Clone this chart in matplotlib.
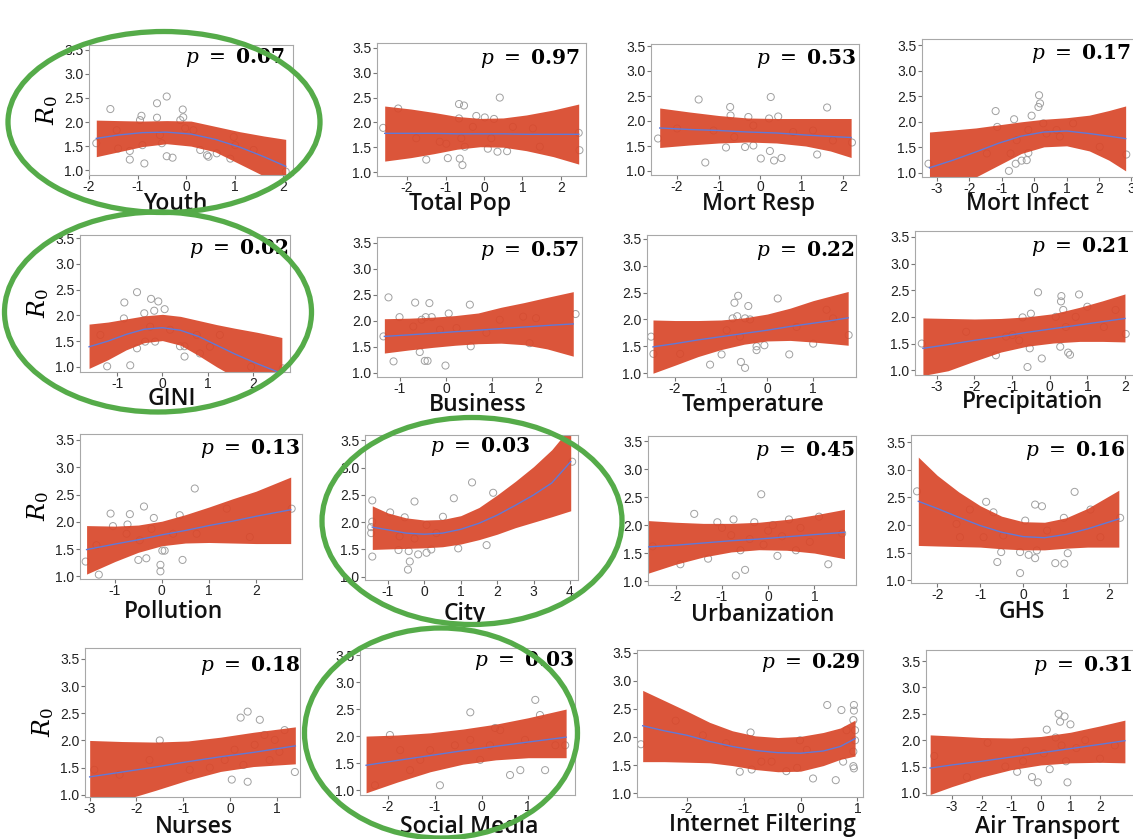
import matplotlib
matplotlib.use('Agg')
import matplotlib.pyplot as plt
from matplotlib.patches import Ellipse

# ---- fitted curves (x, lower band, upper band, fit) and scattered points ----

# Youth
youth_x = [-1.85, -1.4, -0.9, -0.4, 0.1, 0.6, 1.1, 1.6, 2.05]
youth_hi = [2.04, 2.03, 2.02, 2.03, 2.02, 1.91, 1.80, 1.71, 1.64]
youth_lo = [1.28, 1.38, 1.49, 1.55, 1.50, 1.38, 1.13, 0.88, 0.60]
youth_fit = [1.66, 1.73, 1.78, 1.79, 1.75, 1.64, 1.48, 1.28, 1.08]
youth_px = [-1.56, -1.85, -1.4, -1.16, -1.16, -0.92, -0.95, -0.86, -0.9, -0.6, -0.4, -0.6, -0.5, -0.4, -0.28,
            -0.07, -0.06, -0.12, -0.02, -0.54, 0.29, 0.43, 0.46, 0.63, 0.98, 1.01, 0.91, 1.39, 2.05, 0.15, -1.43]
youth_py = [2.27, 1.56, 1.45, 1.40, 1.22, 2.13, 2.04, 1.14, 1.52, 2.39, 2.53, 2.09, 1.56, 1.29, 1.26,
            2.26, 2.10, 2.04, 1.87, 1.73, 1.42, 1.31, 1.28, 1.35, 1.69, 1.52, 1.24, 1.42, 0.97, 1.83, 1.83]

# Total Pop
pop_x = [-2.58, -1.9, -1.3, -0.7, -0.1, 0.5, 1.1, 1.8, 2.46]
pop_hi = [2.33, 2.27, 2.20, 2.12, 2.08, 2.09, 2.15, 2.25, 2.37]
pop_lo = [1.22, 1.29, 1.37, 1.46, 1.51, 1.50, 1.43, 1.31, 1.16]
pop_fit = [1.78, 1.78, 1.78, 1.77, 1.77, 1.77, 1.76, 1.76, 1.76]
pop_px = [-2.62, -2.23, -1.5, -0.94, -0.65, -0.52, -0.65, -0.63, -0.56, -0.5, -0.59, -0.2, 0.02, 0.26,
          0.41, 0.1, 0.35, 0.6, -0.98, 0.19, 0.75, 1.27, 1.45, 2.46, 2.48, -0.29, -1.76, -1.15]
pop_py = [1.89, 2.28, 1.25, 1.28, 2.37, 2.34, 2.08, 1.27, 1.14, 1.51, 1.68, 2.13, 2.10, 2.07,
          2.50, 1.47, 1.41, 1.42, 1.57, 1.68, 1.91, 1.88, 1.51, 1.79, 1.44, 1.91, 1.68, 1.61]

# Mort Resp
resp_x = [-2.42, -1.7, -1.0, -0.3, 0.4, 1.1, 1.7, 2.2]
resp_hi = [2.26, 2.18, 2.11, 2.06, 2.05, 2.05, 2.05, 2.05]
resp_lo = [1.47, 1.52, 1.56, 1.58, 1.56, 1.50, 1.40, 1.27]
resp_fit = [1.86, 1.83, 1.81, 1.78, 1.76, 1.72, 1.69, 1.67]
resp_px = [-2.46, -1.48, -1.32, -0.72, -0.71, -0.82, -0.28, -0.36, -0.16, 0.02, 0.26, 0.22, 0.44,
           0.24, 0.34, 0.52, -0.62, -0.16, 1.38, 1.62, 2.22, -1.12, -2.0, 0.8, 1.28, 1.76]
resp_py = [1.65, 2.43, 1.17, 2.28, 2.11, 1.47, 2.08, 1.48, 1.51, 1.25, 2.48, 2.05, 2.09,
           1.40, 1.21, 1.26, 1.68, 1.91, 1.33, 2.27, 1.57, 1.81, 1.85, 1.78, 1.81, 1.61]

# Mort Infect
inf_x = [-3.23, -2.5, -1.8, -1.1, -0.4, 0.3, 1.0, 1.7, 2.3, 2.82]
inf_hi = [1.80, 1.84, 1.88, 1.94, 2.00, 2.05, 2.08, 2.13, 2.22, 2.31]
inf_lo = [0.80, 0.85, 0.92, 1.15, 1.38, 1.51, 1.53, 1.43, 1.25, 1.04]
inf_fit = [1.10, 1.25, 1.41, 1.58, 1.72, 1.80, 1.82, 1.77, 1.72, 1.67]
inf_px = [-3.26, -1.19, -1.14, -0.62, -0.73, -0.57, -0.78, -0.39, -0.23, -0.18, -0.08, 0.15, 0.18,
          0.13, -0.18, -0.54, 0.38, 0.79, 1.2, 2.84, -1.46, 0.28, 0.69, 2.02]
inf_py = [1.18, 2.21, 1.90, 2.05, 1.38, 1.18, 1.04, 1.24, 1.25, 1.39, 2.12, 2.52, 2.36,
          2.29, 1.84, 1.64, 1.77, 1.71, 1.97, 1.36, 1.38, 1.97, 1.84, 1.51]

# GINI
gini_x = [-1.62, -1.2, -0.8, -0.4, 0.0, 0.4, 0.8, 1.2, 1.6, 2.1, 2.64]
gini_hi = [1.83, 1.87, 1.93, 1.99, 2.02, 1.98, 1.90, 1.82, 1.75, 1.67, 1.57]
gini_lo = [0.97, 1.14, 1.33, 1.47, 1.51, 1.42, 1.22, 1.00, 0.80, 0.55, 0.30]
gini_fit = [1.39, 1.50, 1.63, 1.73, 1.76, 1.71, 1.59, 1.42, 1.25, 1.06, 0.87]
gini_px = [-1.22, -0.71, -0.84, -0.56, -0.25, -0.09, -0.18, 0.05, -0.4, -0.85, -0.56, -0.38, -0.16,
           0.39, 0.49, 0.49, 0.83, 0.17, 0.76, 1.27, 1.96, 2.66, -1.37, -0.27, 1.05]
gini_py = [1.01, 1.03, 2.25, 2.45, 2.32, 2.27, 2.09, 2.12, 2.04, 1.94, 1.36, 1.49, 1.49,
           1.40, 1.40, 1.20, 1.26, 1.72, 1.62, 1.62, 1.00, 0.97, 1.62, 1.78, 1.39]

# Business
bus_x = [-1.34, -0.8, -0.28, 0.2, 0.7, 1.2, 1.7, 2.2, 2.77]
bus_hi = [2.04, 2.05, 2.07, 2.10, 2.15, 2.26, 2.35, 2.45, 2.56]
bus_lo = [1.38, 1.44, 1.49, 1.53, 1.56, 1.57, 1.54, 1.46, 1.32]
bus_fit = [1.70, 1.73, 1.76, 1.79, 1.82, 1.85, 1.88, 1.91, 1.94]
bus_px = [-1.36, -1.25, -1.01, -1.14, -0.67, -0.36, -0.44, -0.31, -0.53, -0.57, -0.46, -0.4, -0.01,
          0.06, 0.52, 0.54, -0.71, -0.13, 0.23, 1.17, 1.68, 1.96, 1.82, 2.82, 0.88]
bus_py = [1.70, 2.45, 2.07, 1.22, 2.35, 2.34, 2.07, 2.07, 2.02, 1.40, 1.23, 1.23, 1.14,
          2.14, 2.31, 1.51, 1.89, 1.83, 1.86, 2.02, 2.08, 2.05, 1.57, 2.13, 1.77]

# Temperature
temp_x = [-2.48, -2.0, -1.5, -1.0, -0.5, 0.0, 0.5, 1.0, 1.4, 1.76]
temp_hi = [1.99, 1.98, 1.98, 1.99, 2.03, 2.10, 2.21, 2.35, 2.44, 2.52]
temp_lo = [1.00, 1.15, 1.31, 1.44, 1.54, 1.60, 1.61, 1.58, 1.55, 1.52]
temp_fit = [1.49, 1.55, 1.62, 1.68, 1.74, 1.80, 1.87, 1.93, 1.98, 2.03]
temp_px = [-2.52, -2.47, -1.24, -0.99, -0.71, -0.63, -0.41, -0.65, -0.75, -0.48, -0.37, -0.57, -0.48,
           -0.23, -0.06, -0.23, 0.23, 0.48, 1.0, 1.77, 1.43, 1.29, -0.88, -0.59, 0.64, -1.89]
temp_py = [1.68, 1.36, 1.16, 1.35, 2.31, 2.44, 2.25, 2.06, 2.02, 2.02, 2.00, 1.21, 1.10,
           1.43, 1.52, 1.50, 2.39, 1.35, 1.55, 1.71, 2.02, 2.18, 1.80, 1.68, 1.86, 1.36]

# Precipitation
prec_x = [-3.37, -2.7, -2.0, -1.3, -0.6, 0.1, 0.8, 1.4, 2.0]
prec_hi = [1.98, 1.97, 1.96, 1.97, 2.00, 2.06, 2.18, 2.30, 2.43]
prec_lo = [0.90, 0.99, 1.17, 1.34, 1.45, 1.51, 1.54, 1.54, 1.53]
prec_fit = [1.41, 1.48, 1.56, 1.63, 1.71, 1.78, 1.85, 1.91, 1.97]
prec_px = [-3.4, -2.22, -1.43, -0.99, -0.72, -0.5, -0.59, -0.53, -0.31, -0.21, 0.31, 0.3, 0.36, 0.28,
           0.49, 0.54, 0.78, 0.69, 0.16, 0.43, 1.0, 1.75, 2.02, -0.81, -1.16, 1.44]
prec_py = [1.50, 1.72, 1.28, 1.66, 1.99, 2.06, 1.06, 1.41, 2.46, 1.22, 2.39, 2.29, 2.13, 1.44,
           1.33, 1.29, 2.42, 2.00, 2.00, 1.81, 2.19, 2.13, 1.68, 1.56, 1.63, 1.81]

# Pollution
poll_x = [-1.6, -1.0, -0.5, 0.0, 0.5, 1.0, 1.5, 2.0, 2.74]
poll_hi = [1.93, 1.92, 1.94, 2.01, 2.13, 2.27, 2.42, 2.56, 2.82]
poll_lo = [1.04, 1.27, 1.44, 1.56, 1.61, 1.62, 1.61, 1.60, 1.60]
poll_fit = [1.49, 1.59, 1.67, 1.76, 1.84, 1.93, 2.01, 2.10, 2.22]
poll_px = [-1.62, -1.34, -1.09, -1.04, -0.68, -0.73, -0.5, -0.33, -0.38, -0.17, -0.22, -0.03, -0.03,
           0.01, 0.06, 0.38, 0.44, 0.7, 0.24, 0.74, 1.38, 1.87, 2.76, -0.47, -0.75, -1.39]
poll_py = [1.27, 1.03, 2.15, 1.92, 2.14, 1.95, 1.30, 1.33, 2.28, 2.07, 1.87, 1.21, 1.09,
           1.47, 1.47, 2.12, 1.30, 2.61, 1.78, 1.78, 2.24, 1.72, 2.24, 1.66, 1.78, 1.57]

# City
city_x = [-1.43, -1.0, -0.5, 0.0, 0.5, 1.0, 1.5, 2.0, 2.5, 3.0, 3.5, 4.02]
city_hi = [2.30, 2.17, 2.08, 2.04, 2.05, 2.12, 2.27, 2.50, 2.75, 3.02, 3.33, 3.75]
city_lo = [1.50, 1.51, 1.52, 1.53, 1.55, 1.60, 1.68, 1.78, 1.90, 2.00, 2.10, 2.21]
city_fit = [1.91, 1.86, 1.80, 1.78, 1.80, 1.87, 1.98, 2.13, 2.31, 2.50, 2.72, 3.11]
city_px = [-1.43, -1.43, -1.46, -1.46, -1.43, -0.94, -0.54, -0.27, -0.71, -0.43, -0.4, -0.45, -0.17,
           0.06, 0.19, 0.06, -0.27, 0.51, 0.81, 0.93, 1.31, 1.71, 1.89, 4.06, -0.68, 0.33]
city_py = [2.40, 2.01, 1.91, 1.80, 1.37, 2.18, 2.09, 2.38, 1.49, 1.47, 1.28, 1.13, 1.41,
           1.44, 1.50, 1.95, 1.70, 2.10, 2.44, 1.52, 2.73, 1.58, 2.54, 3.11, 1.74, 1.80]

# Urbanization
urb_x = [-2.6, -2.0, -1.4, -0.8, -0.2, 0.4, 1.0, 1.65]
urb_hi = [2.08, 2.05, 2.03, 2.03, 2.05, 2.10, 2.18, 2.28]
urb_lo = [1.14, 1.30, 1.43, 1.52, 1.56, 1.55, 1.50, 1.40]
urb_fit = [1.61, 1.64, 1.68, 1.72, 1.75, 1.79, 1.83, 1.87]
urb_px = [-2.5, -1.9, -1.6, -1.3, -1.1, -1.0, -0.8, -0.75, -0.6, -0.5, -0.4, -0.3, -0.15, -0.1, 0.0,
          0.1, 0.2, 0.3, 0.45, 0.6, 0.7, 0.9, 1.1, 1.3, 1.6, -0.7]
urb_py = [1.62, 1.30, 2.20, 1.40, 2.05, 1.95, 1.82, 2.10, 1.55, 1.20, 1.75, 2.05, 2.55, 1.65, 1.90,
          2.00, 1.45, 1.80, 2.10, 1.55, 1.95, 1.70, 2.15, 1.30, 1.85, 1.10]

# GHS
ghs_x = [-2.44, -2.0, -1.5, -1.0, -0.5, 0.0, 0.5, 1.0, 1.5, 2.23]
ghs_hi = [3.23, 2.90, 2.60, 2.35, 2.16, 2.06, 2.05, 2.13, 2.30, 2.63]
ghs_lo = [1.63, 1.62, 1.61, 1.60, 1.57, 1.55, 1.55, 1.58, 1.60, 1.60]
ghs_fit = [2.43, 2.30, 2.14, 1.99, 1.87, 1.79, 1.77, 1.83, 1.93, 2.11]
ghs_px = [-2.47, -0.86, -0.69, -0.6, -0.51, -0.07, -0.07, 0.05, 0.13, 0.28, 0.28, 0.44, 0.32, 0.75,
          0.96, 0.95, 1.04, 1.2, 1.57, 2.26, -1.55, -1.24, -1.47, -0.46, 0.56, 1.8, -0.92]
ghs_py = [2.61, 2.42, 2.23, 1.33, 1.51, 1.51, 1.13, 2.08, 1.46, 1.40, 2.37, 2.34, 1.54, 1.31,
          1.30, 2.13, 1.49, 2.60, 2.28, 2.13, 2.02, 2.28, 1.78, 1.81, 1.90, 1.78, 1.78]

# Nurses
nur_x = [-3.0, -2.3, -1.6, -0.9, -0.2, 0.5, 1.4]
nur_hi = [2.00, 1.98, 1.97, 1.99, 2.06, 2.15, 2.25]
nur_lo = [0.70, 0.90, 1.08, 1.27, 1.43, 1.52, 1.57]
nur_fit = [1.33, 1.42, 1.51, 1.61, 1.70, 1.78, 1.90]
nur_px = [0.38, 0.23, 0.64, 0.74, 0.85, 0.29, 1.39, 0.04, 0.38, -1.72, -2.36, -2.9, -0.43, 0.1,
          0.53, 0.96, 1.06, -0.11, -0.86, -1.5, 1.17]
nur_py = [2.53, 2.42, 2.38, 2.10, 1.64, 1.55, 1.42, 1.28, 1.24, 1.64, 1.37, 1.46, 1.50, 1.83,
          1.92, 2.01, 1.79, 1.64, 1.46, 2.00, 2.19]

# Social Media
soc_x = [-2.47, -1.8, -1.1, -0.4, 0.3, 1.0, 1.81]
soc_hi = [2.00, 2.02, 2.06, 2.13, 2.22, 2.34, 2.50]
soc_lo = [0.95, 1.15, 1.34, 1.48, 1.56, 1.60, 1.60]
soc_fit = [1.46, 1.55, 1.64, 1.73, 1.81, 1.89, 1.98]
soc_px = [-1.96, -2.28, -1.53, -0.89, -0.24, 0.29, 0.4, 1.15, 1.25, 1.58, 1.36, 0.83, 0.61, -0.03,
          -0.57, -1.1, -1.31, -1.74, -0.24, 0.18, 0.93, 1.79]
soc_py = [2.02, 1.09, 1.37, 1.09, 2.44, 2.15, 2.11, 2.67, 2.39, 1.83, 1.37, 1.37, 1.28, 1.56,
          1.83, 1.74, 1.56, 1.74, 1.93, 1.83, 1.93, 1.83]

# Internet Filtering
net_x = [-2.78, -2.4, -2.0, -1.6, -1.2, -0.8, -0.4, 0.0, 0.4, 0.7, 0.96]
net_hi = [2.83, 2.65, 2.46, 2.26, 2.11, 2.02, 1.99, 2.01, 2.08, 2.16, 2.30]
net_lo = [1.56, 1.56, 1.55, 1.54, 1.49, 1.42, 1.38, 1.39, 1.49, 1.60, 1.66]
net_fit = [2.20, 2.11, 2.03, 1.92, 1.83, 1.76, 1.72, 1.71, 1.75, 1.83, 1.97]
net_px = [-2.81, -2.2, -1.72, -1.07, -0.88, -0.86, -0.69, -0.51, -0.25, -0.06, -0.01, 0.22, 0.62,
          0.47, 0.72, 0.94, 0.94, 0.93, 0.96, 0.96, 0.93, 0.75, 0.93, 0.94, 0.11, -1.31, 0.81]
net_py = [1.87, 2.29, 2.03, 1.38, 2.08, 1.42, 1.56, 1.56, 1.39, 1.45, 1.94, 1.26, 1.23,
          2.57, 2.48, 2.57, 2.47, 2.30, 2.12, 1.94, 1.74, 1.56, 1.48, 1.44, 1.77, 1.89, 2.12]

# Air Transport
air_x = [-3.74, -3.0, -2.0, -1.0, 0.0, 1.0, 2.0, 2.84]
air_hi = [2.10, 2.08, 2.05, 2.04, 2.07, 2.15, 2.27, 2.38]
air_lo = [0.97, 1.12, 1.30, 1.44, 1.53, 1.57, 1.58, 1.57]
air_fit = [1.47, 1.53, 1.60, 1.68, 1.76, 1.84, 1.92, 1.99]
air_px = [-3.6, -2.5, -1.8, -1.2, -0.8, -0.5, -0.3, -0.1, 0.1, 0.2, 0.3, 0.5, 0.6, 0.65, 0.7, 0.8,
          0.85, 0.9, 1.0, 1.2, 1.5, 2.0, 2.5, -0.6]
air_py = [1.70, 1.30, 1.95, 1.50, 1.40, 1.80, 1.30, 1.20, 1.75, 2.20, 1.45, 2.05, 2.50, 2.35, 1.90, 2.45,
          1.60, 1.20, 2.30, 1.85, 2.00, 1.65, 1.90, 1.60]

names = ['Youth', 'Total Pop', 'Mort Resp', 'Mort Infect',
         'GINI', 'Business', 'Temperature', 'Precipitation',
         'Pollution', 'City', 'Urbanization', 'GHS',
         'Nurses', 'Social Media', 'Internet Filtering', 'Air Transport']
pvals = ['0.07', '0.97', '0.53', '0.17',
         '0.02', '0.57', '0.22', '0.21',
         '0.13', '0.03', '0.45', '0.16',
         '0.18', '0.03', '0.29', '0.31']
xticks = [range(-2, 3), range(-2, 3), range(-2, 3), range(-3, 4),
          range(-1, 3), range(-1, 3), range(-2, 2), range(-3, 3),
          range(-1, 3), range(-1, 5), range(-2, 2), range(-2, 3),
          range(-3, 2), range(-2, 2), range(-2, 2), range(-3, 3)]
yticks = [1.0, 1.5, 2.0, 2.5, 3.0, 3.5]

curves = [
    (youth_x, youth_lo, youth_hi, youth_fit, youth_px, youth_py),
    (pop_x, pop_lo, pop_hi, pop_fit, pop_px, pop_py),
    (resp_x, resp_lo, resp_hi, resp_fit, resp_px, resp_py),
    (inf_x, inf_lo, inf_hi, inf_fit, inf_px, inf_py),
    (gini_x, gini_lo, gini_hi, gini_fit, gini_px, gini_py),
    (bus_x, bus_lo, bus_hi, bus_fit, bus_px, bus_py),
    (temp_x, temp_lo, temp_hi, temp_fit, temp_px, temp_py),
    (prec_x, prec_lo, prec_hi, prec_fit, prec_px, prec_py),
    (poll_x, poll_lo, poll_hi, poll_fit, poll_px, poll_py),
    (city_x, city_lo, city_hi, city_fit, city_px, city_py),
    (urb_x, urb_lo, urb_hi, urb_fit, urb_px, urb_py),
    (ghs_x, ghs_lo, ghs_hi, ghs_fit, ghs_px, ghs_py),
    (nur_x, nur_lo, nur_hi, nur_fit, nur_px, nur_py),
    (soc_x, soc_lo, soc_hi, soc_fit, soc_px, soc_py),
    (net_x, net_lo, net_hi, net_fit, net_px, net_py),
    (air_x, air_lo, air_hi, air_fit, air_px, air_py),
]

# ---- layout (pixels on a 1133 x 839 canvas) ----
W, H = 1133, 839

# axes boxes: left, top, right, bottom
boxes = [(89, 45, 293, 175), (377, 43, 586, 176), (651, 44, 859, 175), (922, 39, 1137, 177),
         (80, 235, 290, 372), (377, 237, 582, 377), (647, 235, 856, 377), (915, 231, 1140, 375),
         (80, 434, 302, 579), (365, 435, 578, 580), (648, 436, 856, 585), (911, 435, 1127, 583),
         (85, 648, 300, 797), (360, 648, 575, 795), (637, 650, 863, 797), (926, 650, 1140, 795)]
xlims = [(-2.0, 2.2), (-2.78, 2.65), (-2.63, 2.39), (-3.46, 3.17),
         (-1.82, 2.82), (-1.5, 2.96), (-2.61, 1.93), (-3.58, 2.4),
         (-1.74, 2.98), (-1.63, 4.22), (-2.6, 1.9), (-2.61, 2.42),
         (-3.1, 1.5), (-2.6, 2.0), (-2.88, 1.1), (-3.88, 3.35)]
ylims = [(0.9, 3.6), (0.92, 3.6), (0.92, 3.54), (0.92, 3.62),
         (0.9, 3.56), (0.92, 3.61), (0.93, 3.57), (0.91, 3.61),
         (0.95, 3.61), (0.94, 3.6), (0.93, 3.59), (0.95, 3.63),
         (0.96, 3.7), (0.91, 3.63), (0.93, 3.55), (0.96, 3.71)]
# right end / top of the p-value text
ptext_pos = [(284, 46), (579, 47), (856, 47), (1130, 42),
             (288, 237), (579, 239), (855, 239), (1130, 235),
             (300, 437), (530, 435), (855, 439), (1125, 439),
             (300, 654), (574, 649), (860, 651), (1132, 654)]
# centre / baseline of the variable name
label_pos = [(175, 210), (460, 210), (758, 210), (1027, 210),
             (172, 405), (478, 411), (753, 411), (1033, 408),
             (173, 618), (465, 620), (763, 621), (1022, 618),
             (194, 833), (469, 833), (762, 831), (1047, 833)]
# green rings: centre x, centre y, width, height
rings = [(164, 122, 312, 181), (158, 312, 307, 200), (472, 521, 300, 207), (441, 733, 273, 210)]

plt.rcParams['axes.unicode_minus'] = False
plt.rcParams['mathtext.fontset'] = 'custom'
plt.rcParams['mathtext.rm'] = 'DejaVu Serif'
plt.rcParams['mathtext.it'] = 'DejaVu Serif:italic'
plt.rcParams['mathtext.bf'] = 'DejaVu Serif:bold'

band_col = '#d9482b'
line_col = '#6079d8'
ring_col = '#55ab49'

fig = plt.figure(figsize=(W / 100, H / 100), dpi=100)

for i in range(16):
    l, t, r, b = boxes[i]
    ax = fig.add_axes([l / W, 1 - b / H, (r - l) / W, (b - t) / H])
    cx, lo, hi, fit, px, py = curves[i]

    ax.scatter(px, py, s=26, facecolors='none', edgecolors='#a0a0a0', linewidths=0.7, zorder=1)
    ax.fill_between(cx, lo, hi, color=band_col, alpha=0.93, linewidth=0, zorder=2)
    ax.plot(cx, fit, color=line_col, lw=1.0, zorder=3)

    ax.set_xlim(*xlims[i])
    ax.set_ylim(*ylims[i])
    ax.set_xticks(list(xticks[i]))
    ax.set_xticklabels([str(v) for v in xticks[i]])
    ax.set_yticks(yticks)
    ax.set_yticklabels(['%.1f' % v for v in yticks])
    ax.tick_params(length=3, width=0.8, color='#777777', labelsize=10, labelcolor='#222222',
                   pad=1)
    ax.tick_params(axis='x', pad=0.5)
    for lab in ax.get_xticklabels() + ax.get_yticklabels():
        lab.set_family('Liberation Sans')
    for sp in ax.spines.values():
        sp.set_color('#a8a8a8')
        sp.set_linewidth(0.8)

    if i % 4 == 0:
        ax.set_ylabel(r'$R_{\mathrm{0}}$', fontsize=17, labelpad=3)

    xr, yt = ptext_pos[i]
    fig.text(xr / W, 1 - yt / H, r'$p\ =\ \mathbf{%s}$' % pvals[i], ha='right', va='top',
             fontsize=14.5)
    xc, yb = label_pos[i]
    fig.text(xc / W, 1 - yb / H, names[i], ha='center', va='baseline', fontsize=16.5,
             family='Open Sans', fontweight='semibold', color='#111111')

for xc, yc, w, h in rings:
    fig.add_artist(Ellipse((xc / W, 1 - yc / H), w / W, h / H, transform=fig.transFigure,
                           fill=False, edgecolor=ring_col, linewidth=3.8, zorder=10))

fig.savefig('out.png', dpi=100)
